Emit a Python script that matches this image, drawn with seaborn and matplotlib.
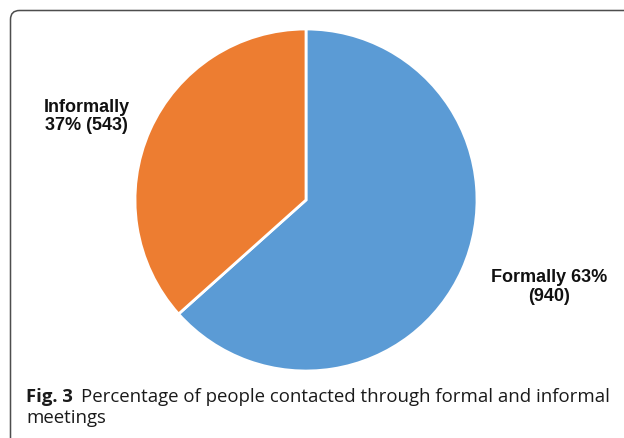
import matplotlib
matplotlib.use("Agg")
import matplotlib.pyplot as plt
import seaborn as sns
from matplotlib.patches import FancyBboxPatch
from matplotlib.transforms import IdentityTransform

# Data
categories = ["Formally", "Informally"]
counts = [940, 543]
percents = [63, 37]
colors = ["#5B9BD5", "#ED7D31"]
caption_bold = "Fig. 3"
caption_line1 = "Percentage of people contacted through formal and informal"
caption_line2 = "meetings"

sns.set_theme(style="white")
plt.rcParams['font.family'] = ['Liberation Sans', 'DejaVu Sans']

W, H = 624, 438
fig = plt.figure(figsize=(W / 100, H / 100), dpi=100)

# Border (rounded top-left corner, running off right/bottom)
border = FancyBboxPatch((10.5, -60), 800, (H - 10.5) + 60,
                        boxstyle="round,pad=0,rounding_size=9",
                        transform=IdentityTransform(), fill=False,
                        edgecolor="#4d4d4d", linewidth=1.1)
fig.add_artist(border)

# Pie axes: center (306, 200) px from top, radius 171 px
cx, cy, r = 306, 200, 171
ax = fig.add_axes([(cx - r) / W, 1 - (cy + r) / H, 2 * r / W, 2 * r / H])
ax.pie(counts, colors=colors, startangle=90, counterclock=False,
       wedgeprops=dict(edgecolor="white", linewidth=2))
ax.set_xlim(-1, 1)
ax.set_ylim(-1, 1)
ax.set_aspect("equal")
ax.axis("off")

lab_kw = dict(fontsize=13, fontweight="bold", ha="center", va="center",
              color="#111111", clip_on=False, linespacing=1.15)
ax.text((549 - cx) / r, (cy - 287) / r,
        f"{categories[0]} {percents[0]}%\n({counts[0]})", **lab_kw)
ax.text((86.5 - cx) / r, (cy - 116.5) / r,
        f"{categories[1]}\n{percents[1]}% ({counts[1]})", **lab_kw)

# Caption
cap_font = ['Open Sans', 'DejaVu Sans']
fig.text(26 / W, 1 - 402 / H, caption_bold, family=cap_font, fontweight="bold",
         fontsize=13.3, ha="left", va="baseline", color="#1a1a1a")
fig.text(81 / W, 1 - 402 / H, caption_line1, family=cap_font,
         fontsize=13.4, ha="left", va="baseline", color="#1a1a1a")
fig.text(26 / W, 1 - 423 / H, caption_line2, family=cap_font,
         fontsize=13.4, ha="left", va="baseline", color="#1a1a1a")

fig.savefig("out.png", dpi=100)
